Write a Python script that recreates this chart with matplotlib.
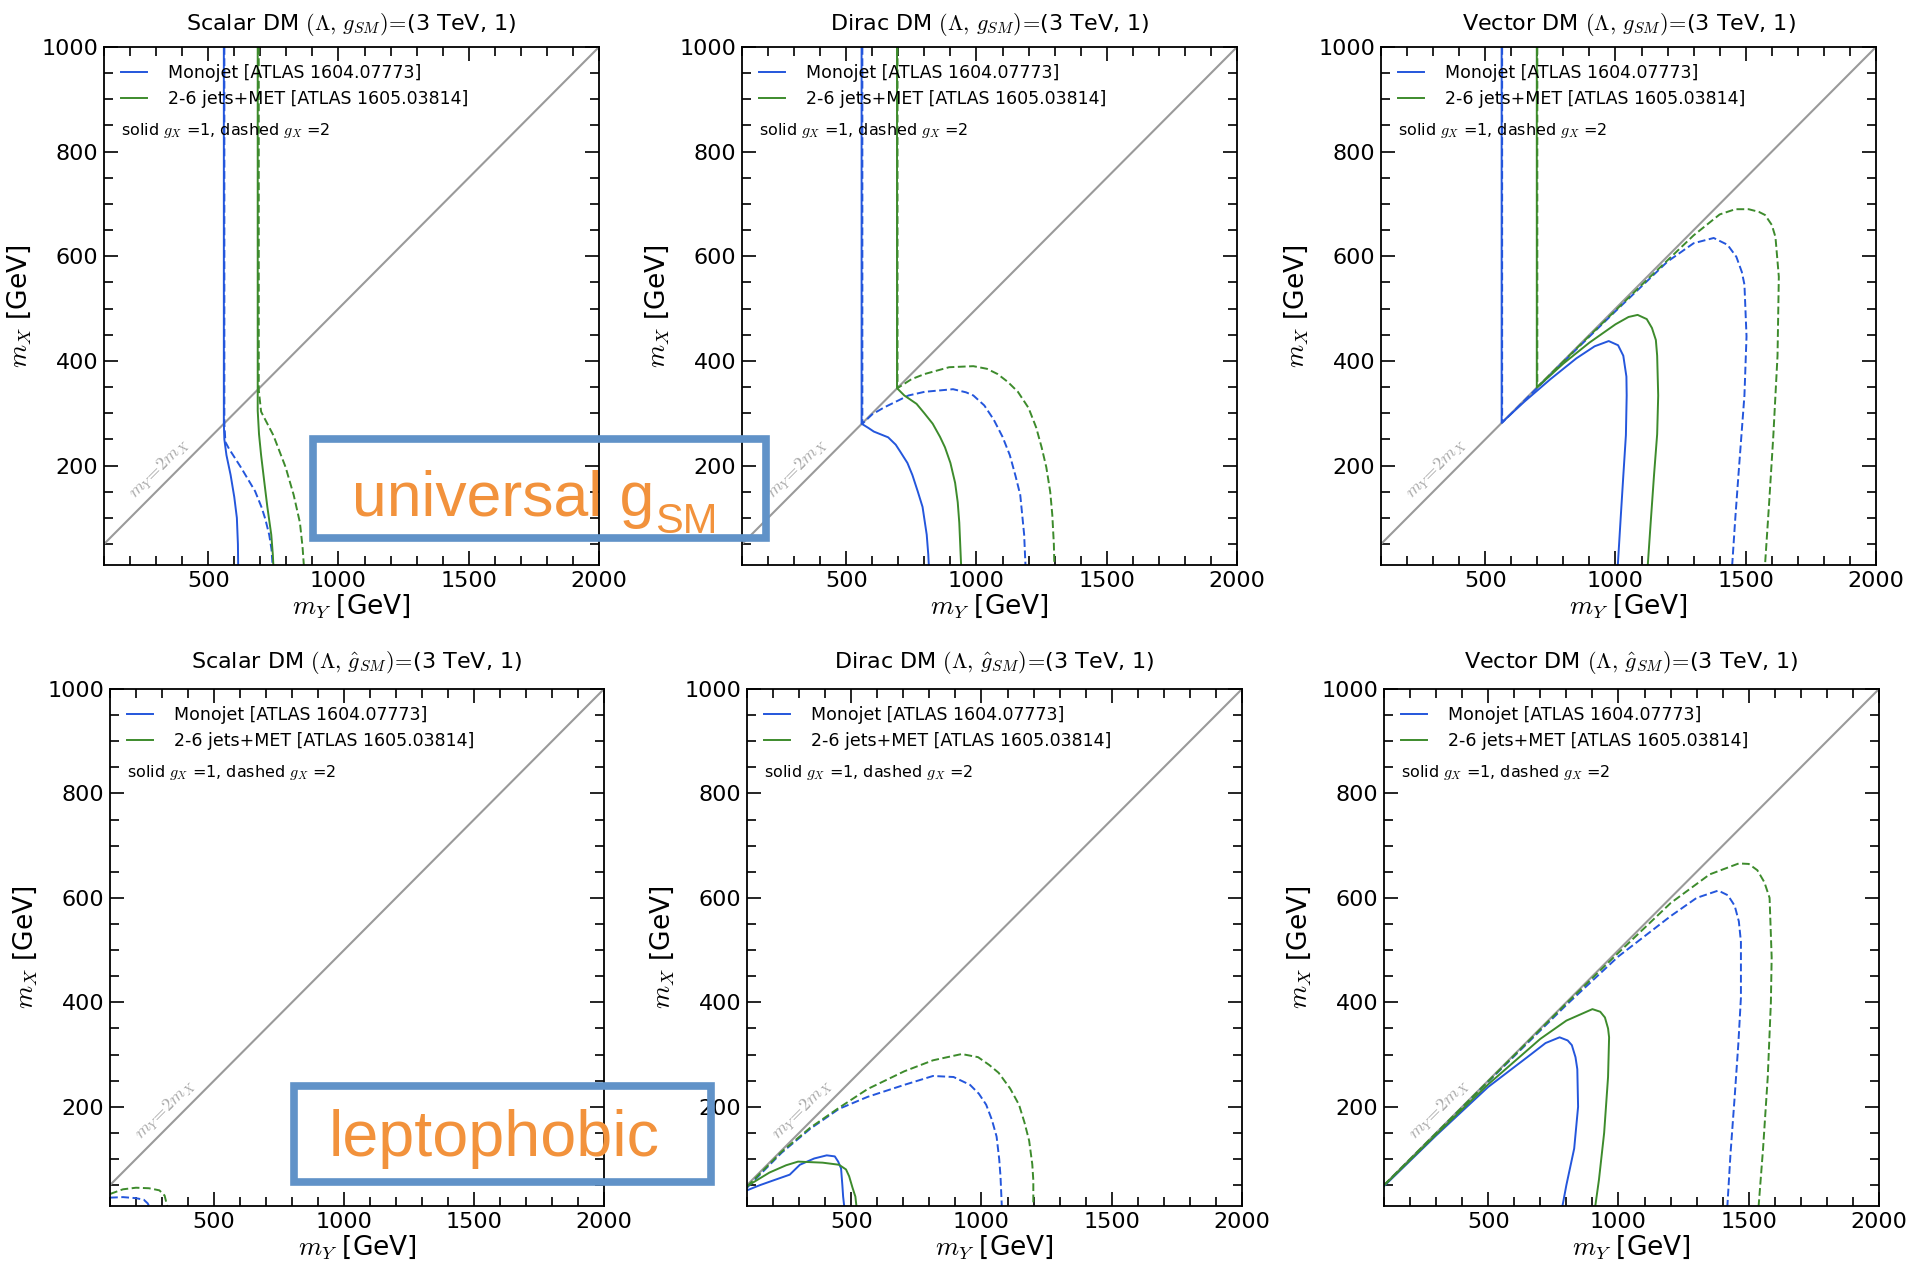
import matplotlib
matplotlib.use("Agg")
import matplotlib.pyplot as plt
from matplotlib.patches import Rectangle
from matplotlib.ticker import MultipleLocator

# ---- data: (m_Y, m_X) points ----
# top row: universal g_SM
scalar_u_mono_g1 = [(560, 1000), (560, 280), (562, 250), (570, 220), (586, 182), (600, 140), (610, 100), (614, 50), (615, 10)]
scalar_u_mono_g2 = [(562, 1000), (562, 280), (566, 245), (580, 232), (625, 197), (680, 151), (705, 120), (719, 98), (734, 68), (743, 40), (747, 10)]
scalar_u_jets_g1 = [(690, 1000), (690, 345), (690, 305), (695, 260), (703, 220), (715, 170), (727, 121), (742, 68), (748, 30), (750, 10)]
scalar_u_jets_g2 = [(694, 1000), (694, 345), (703, 303), (750, 258), (797, 197), (828, 144), (852, 91), (862, 45), (867, 10)]

dirac_u_mono_g1 = [(559, 1000), (559, 280), (585, 272), (606, 265), (661, 254), (690, 240), (707, 227), (735, 205), (754, 182), (775, 150), (793, 121), (809, 68), (815, 30), (817, 10)]
dirac_u_mono_g2 = [(562, 1000), (562, 280), (600, 298), (645, 311), (739, 334), (801, 341), (910, 346), (960, 340), (988, 334), (1030, 315), (1066, 288), (1100, 255), (1128, 220), (1150, 180), (1168, 144), (1183, 68), (1188, 10)]
dirac_u_jets_g1 = [(695, 1000), (695, 348), (723, 334), (770, 318), (800, 300), (832, 280), (860, 255), (879, 235), (900, 205), (918, 167), (928, 130), (934, 91), (941, 10)]
dirac_u_jets_g2 = [(697, 1000), (697, 348), (750, 365), (801, 375), (895, 388), (988, 390), (1040, 385), (1081, 375), (1120, 360), (1159, 341), (1200, 310), (1229, 273), (1250, 235), (1268, 197), (1283, 150), (1291, 106), (1297, 50), (1299, 10)]

vector_u_mono_g1 = [(563, 1000), (563, 282), (650, 322), (750, 365), (850, 405), (920, 428), (974, 438), (1010, 430), (1030, 410), (1042, 370), (1043, 334), (1040, 258), (1030, 180), (1020, 100), (1009, 10)]
vector_u_mono_g2 = [(565, 1000), (565, 282), (800, 398), (1000, 495), (1200, 590), (1300, 625), (1377, 635), (1430, 622), (1464, 599), (1485, 570), (1495, 546), (1503, 447), (1495, 334), (1472, 182), (1460, 100), (1448, 10)]
vector_u_jets_g1 = [(698, 1000), (698, 349), (800, 395), (900, 435), (1000, 470), (1050, 484), (1085, 488), (1120, 480), (1140, 463), (1155, 440), (1160, 410), (1164, 334), (1160, 260), (1148, 182), (1135, 90), (1124, 10)]
vector_u_jets_g2 = [(700, 1000), (700, 350), (900, 448), (1100, 545), (1300, 640), (1400, 680), (1460, 690), (1511, 690), (1550, 685), (1574, 679), (1600, 660), (1614, 637), (1627, 561), (1622, 410), (1606, 258), (1590, 130), (1574, 10)]

# bottom row: leptophobic
scalar_l_mono_g1 = []
scalar_l_mono_g2 = [(100, 26), (150, 27), (200, 25), (230, 22), (245, 15), (250, 10)]
scalar_l_jets_g1 = []
scalar_l_jets_g2 = [(100, 33), (150, 42), (200, 45), (250, 44), (290, 40), (310, 30), (320, 10)]

dirac_l_mono_g1 = [(100, 40), (150, 50), (201, 59), (264, 70), (303, 89), (358, 101), (406, 107), (437, 105), (450, 95), (461, 82), (466, 50), (469, 28), (473, 10)]
dirac_l_mono_g2 = [(100, 45), (233, 112), (343, 158), (453, 196), (563, 219), (704, 242), (814, 259), (893, 257), (956, 242), (990, 225), (1018, 204), (1040, 175), (1058, 143), (1068, 100), (1073, 67), (1078, 10)]
dirac_l_jets_g1 = [(100, 48), (186, 74), (250, 88), (296, 95), (390, 93), (453, 89), (480, 80), (492, 67), (505, 45), (516, 28), (520, 10)]
dirac_l_jets_g2 = [(100, 47), (233, 114), (343, 160), (453, 198), (563, 234), (704, 268), (814, 289), (924, 301), (987, 295), (1030, 280), (1066, 265), (1110, 235), (1144, 204), (1165, 170), (1183, 135), (1195, 90), (1199, 59), (1199, 10)]

vector_l_mono_g1 = [(100, 48), (300, 145), (500, 238), (650, 295), (720, 322), (774, 333), (805, 327), (821, 318), (835, 295), (842, 272), (845, 200), (830, 120), (800, 50), (785, 10)]
vector_l_mono_g2 = [(100, 49), (500, 248), (800, 395), (1000, 488), (1200, 565), (1300, 600), (1383, 614), (1420, 605), (1446, 585), (1462, 555), (1470, 516), (1470, 409), (1460, 320), (1446, 219), (1430, 110), (1418, 10)]
vector_l_jets_g1 = [(100, 49), (300, 147), (500, 243), (700, 330), (800, 365), (900, 387), (930, 382), (948, 371), (960, 350), (964, 333), (960, 257), (945, 150), (925, 60), (911, 10)]
vector_l_jets_g2 = [(100, 50), (500, 249), (800, 398), (1000, 495), (1200, 590), (1350, 645), (1462, 666), (1500, 665), (1533, 653), (1560, 630), (1580, 600), (1588, 486), (1585, 400), (1573, 257), (1555, 120), (1538, 10)]

titles = [
    r"Scalar DM $(\Lambda,\, g_{SM})\!=\!$(3 TeV, 1)",
    r"Dirac DM $(\Lambda,\, g_{SM})\!=\!$(3 TeV, 1)",
    r"Vector DM $(\Lambda,\, g_{SM})\!=\!$(3 TeV, 1)",
    r"Scalar DM $(\Lambda,\, \hat{g}_{SM})\!=\!$(3 TeV, 1)",
    r"Dirac DM $(\Lambda,\, \hat{g}_{SM})\!=\!$(3 TeV, 1)",
    r"Vector DM $(\Lambda,\, \hat{g}_{SM})\!=\!$(3 TeV, 1)",
]
curves = [
    (scalar_u_mono_g1, scalar_u_mono_g2, scalar_u_jets_g1, scalar_u_jets_g2),
    (dirac_u_mono_g1, dirac_u_mono_g2, dirac_u_jets_g1, dirac_u_jets_g2),
    (vector_u_mono_g1, vector_u_mono_g2, vector_u_jets_g1, vector_u_jets_g2),
    (scalar_l_mono_g1, scalar_l_mono_g2, scalar_l_jets_g1, scalar_l_jets_g2),
    (dirac_l_mono_g1, dirac_l_mono_g2, dirac_l_jets_g1, dirac_l_jets_g2),
    (vector_l_mono_g1, vector_l_mono_g2, vector_l_jets_g1, vector_l_jets_g2),
]
diag_x = [100, 2000]
diag_y = [50, 1000]

BLUE = '#2456dc'
GREEN = '#3d8b2c'
DASH = (0, (4, 1.8))

W, H = 1926, 1262
plt.rcParams['font.family'] = 'DejaVu Sans'
plt.rcParams['mathtext.fontset'] = 'cm'

fig = plt.figure(figsize=(W / 100, H / 100), dpi=100, facecolor='w')

# axes boxes in pixels (left, top, right, bottom)
boxes = [(104, 47, 599, 565), (742, 47, 1237, 565), (1381, 47, 1876, 565),
         (110, 689, 604, 1206), (747, 689, 1242, 1206), (1384, 689, 1879, 1206)]

for i, (l, t, r, b) in enumerate(boxes):
    ax = fig.add_axes([l / W, 1 - b / H, (r - l) / W, (b - t) / H])
    mono1, mono2, jets1, jets2 = curves[i]

    ax.plot(diag_x, diag_y, color='#9a9a9a', lw=1.5)
    for pts, col, ls in ((mono2, BLUE, DASH), (jets2, GREEN, DASH), (mono1, BLUE, '-'), (jets1, GREEN, '-')):
        if pts:
            ax.plot([p[0] for p in pts], [p[1] for p in pts], color=col, lw=1.4, linestyle=ls)
    # legend entries only
    ax.plot([], [], color=BLUE, lw=1.4, label='Monojet [ATLAS 1604.07773]')
    ax.plot([], [], color=GREEN, lw=1.4, label='2-6 jets+MET [ATLAS 1605.03814]')

    ax.set_xlim(100, 2000)
    ax.set_ylim(10, 1000)
    ax.xaxis.set_major_locator(MultipleLocator(500))
    ax.xaxis.set_minor_locator(MultipleLocator(100))
    ax.yaxis.set_major_locator(MultipleLocator(200))
    ax.yaxis.set_minor_locator(MultipleLocator(50))
    ax.tick_params(which='both', direction='in', top=True, right=True, width=1.2)
    ax.tick_params(which='major', length=10, labelsize=16, pad=4)
    ax.tick_params(which='minor', length=6.5)
    for sp in ax.spines.values():
        sp.set_linewidth(1.3)

    ax.set_title(titles[i], fontsize=16, pad=12 if i < 3 else 15)
    ax.set_xlabel(r'$m_Y$ [GeV]', fontsize=19, labelpad=1)
    ax.set_ylabel(r'$m_X$ [GeV]', fontsize=19, labelpad=6)

    ax.legend(loc='upper left', frameon=False, fontsize=12.5, handlelength=1.5,
              handletextpad=1.2, borderaxespad=0.6, labelspacing=0.45)
    ax.text(0.035, 0.838, r'solid $g_X$ =1, dashed $g_X$ =2', transform=ax.transAxes,
            fontsize=11.5, va='center', ha='left')
    ax.text(235, 128, r'$m_Y\!=\!2m_X$', color='#a8a8a8', fontsize=13,
            rotation=45, rotation_mode='anchor', ha='left', va='bottom')

# annotation boxes drawn on the figure (pixel coords converted to fractions)
def px_rect(x0, y0, x1, y1):
    return Rectangle((x0 / W, 1 - y1 / H), (x1 - x0) / W, (y1 - y0) / H, transform=fig.transFigure,
                     fill=False, edgecolor='#6092c8', lw=5.5, zorder=10)

fig.patches.append(px_rect(313, 439, 766, 538))
fig.patches.append(px_rect(294, 1086, 711, 1182))

ORANGE = '#f2923c'
t1 = fig.text(352 / W, 1 - 516 / H, 'universal g', fontsize=45, color=ORANGE,
              family='Liberation Sans', va='baseline', ha='left')
fig.canvas.draw()
bb = t1.get_window_extent()
fig.text(bb.x1 / W + 0.0005, 1 - 533 / H, 'SM', fontsize=30, color=ORANGE,
         family='Liberation Sans', va='baseline', ha='left')
fig.text(329 / W, 1 - 1156 / H, 'leptophobic', fontsize=46.5, color=ORANGE,
         family='Liberation Sans', va='baseline', ha='left')

fig.savefig('out.png', dpi=100, facecolor='w')
